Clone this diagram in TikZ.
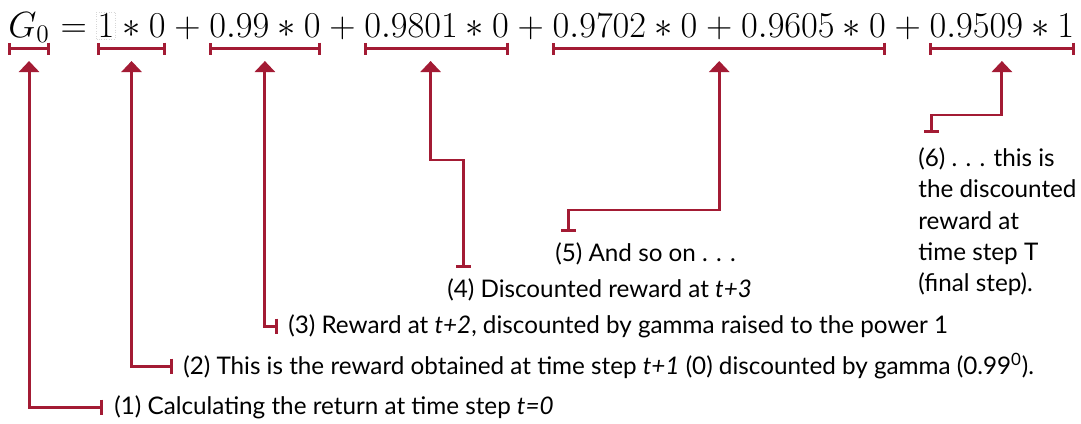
\documentclass[tikz,border=0pt]{standalone}
\usepackage{fontspec}
\usepackage{tikz}
\usetikzlibrary{arrows.meta, positioning}
\newfontfamily\notefont{Lato}
\definecolor{callred}{RGB}{163, 27, 52}
\definecolor{framegray}{RGB}{215, 215, 215}

\begin{document}
\begin{tikzpicture}[x=0.02cm, y=-0.02cm,
    eqpart/.style={inner sep=0pt, anchor=base west, font=\fontsize{19.7}{24}\selectfont},
    brace/.style={callred, line width=1.7pt, {Bar[width=0.24cm]}-{Bar[width=0.24cm]}},
    pointer/.style={callred, line width=1.7pt, {Triangle[width=0.4cm, length=0.22cm]}-{Bar[width=0.3cm]}},
    note/.style={inner sep=0pt, anchor=west, font=\notefont\fontsize{13.8}{17.9}\selectfont}]
  \useasboundingbox (0,0) rectangle (1081,423);

  % Equation
  \node[eqpart] (g0) at (8,37) {$G_0$};
  \node[eqpart] (eq) at (g0.base east) {${}={}$};
  \node[eqpart] (t1) at (eq.base east) {$1*0$};
  \node[eqpart] (p1) at (t1.base east) {${}+{}$};
  \node[eqpart] (t2) at (p1.base east) {$0.99*0$};
  \node[eqpart] (p2) at (t2.base east) {${}+{}$};
  \node[eqpart] (t3) at (p2.base east) {$0.9801*0$};
  \node[eqpart] (p3) at (t3.base east) {${}+{}$};
  \node[eqpart] (t4) at (p3.base east) {$0.9702*0$};
  \node[eqpart] (p4) at (t4.base east) {${}+{}$};
  \node[eqpart] (t5) at (p4.base east) {$0.9605*0$};
  \node[eqpart] (p5) at (t5.base east) {${}+{}$};
  \node[eqpart] (t6) at (p5.base east) {$0.9509*1$};
  \draw[framegray, densely dotted] ([shift={(-1,2)}]t1.base west) rectangle ++(19,-27);

  % Brackets
  \coordinate (brk) at (0,48.5);
  \foreach \a/\b in {g0/g0, t1/t1, t2/t2, t3/t3, t4/t5, t6/t6}
    \draw[brace] (\a.west |- brk) -- (\b.east |- brk);

  % Notes
  \node[note] (n1) at (114,407) {(1) Calculating the return at time step \textit{t=0}};
  \node[note] (n2) at (183,366) {(2) This is the reward obtained at time step \textit{t+1} (0) discounted by gamma (0.99\textsuperscript{0}).};
  \node[note] (n3) at (288,326) {(3) Reward at \textit{t+2}, discounted by gamma raised to the power 1};
  \node[note] (n4) at (447,290) {(4) Discounted reward at \textit{t+3}};
  \node[note] (n5) at (555,254) {(5) And so on . . .};
  \node[note, anchor=north west, align=left] (n6) at (918,147) {(6) . . . this is\\the discounted\\reward at\\time step T\\(final step).};

  % Pointers
  \coordinate (tip) at (0,61);
  \coordinate (bend4) at (0,160);
  \coordinate (bend5) at (0,210);
  \coordinate (bend6) at (0,115);
  \coordinate (k4) at (463,268);
  \coordinate (k5) at (568,232);
  \coordinate (k6) at (931,133);
  \draw[pointer] (g0.south |- tip) |- ([xshift=-0.22cm]n1.west);
  \draw[pointer] (t1.south |- tip) |- ([xshift=-0.2cm]n2.west);
  \draw[pointer] (t2.south |- tip) |- ([xshift=-0.2cm]n3.west);
  \draw[pointer] ([xshift=-0.12cm]t3.south |- tip) -- ([xshift=-0.12cm]t3.south |- bend4) -| (k4);
  \draw[pointer] (p4.south |- tip) -- (p4.south |- bend5) -| (k5);
  \draw[pointer] (t6.south |- tip) -- (t6.south |- bend6) -| (k6);
\end{tikzpicture}
\end{document}
